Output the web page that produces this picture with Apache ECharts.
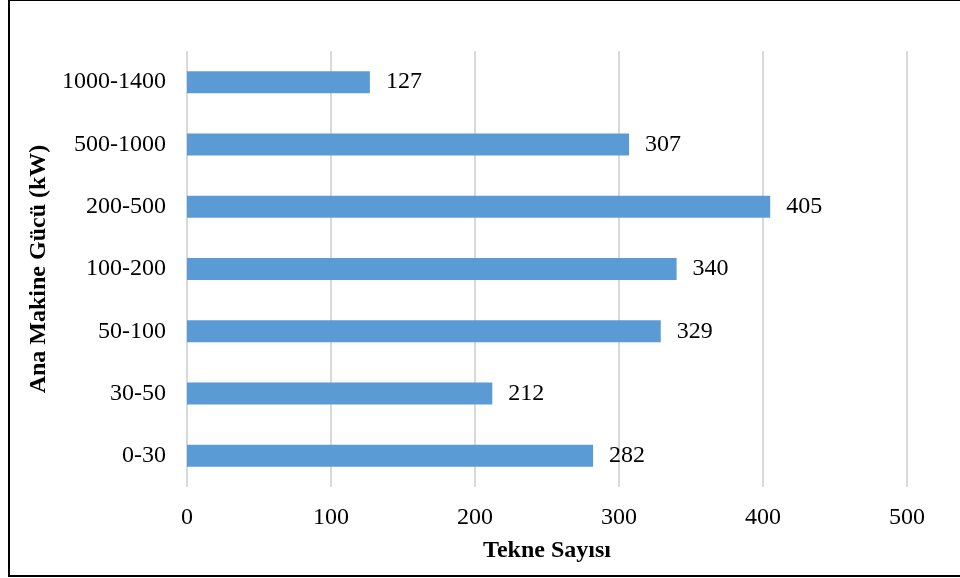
<!DOCTYPE html>
<html><head><meta charset="utf-8">
<script src="https://cdn.jsdelivr.net/npm/echarts@6/dist/echarts.min.js"></script>
<style>html,body{margin:0;padding:0;background:#fff}#c{width:960px;height:578px}</style>
</head><body><div id="c"></div>
<script>
const categories = ['0-30','30-50','50-100','100-200','200-500','500-1000','1000-1400'];
const values = [282, 212, 329, 340, 405, 307, 127];
const xTicks = [0, 100, 200, 300, 400, 500];
const xTitle = 'Tekne Sayısı';
const yTitle = 'Ana Makine Gücü (kW)';

const FONT = '"Liberation Serif", "Times New Roman", serif';
const chart = echarts.init(document.getElementById('c'));
chart.setOption({
  animation: false,
  textStyle: {fontFamily: FONT},
  grid: {left: 187, right: 53, top: 51, bottom: 91, containLabel: false},
  xAxis: {
    type: 'value', min: xTicks[0], max: xTicks[xTicks.length-1], interval: 100,
    axisLine: {show: false}, axisTick: {show: false},
    axisLabel: {fontFamily: FONT, fontSize: 24, color: '#000', margin: 19},
    splitLine: {show: true, lineStyle: {color: '#d9d9d9', width: 2}},
    name: xTitle, nameLocation: 'middle', nameGap: 52,
    nameTextStyle: {fontFamily: FONT, fontSize: 24, fontWeight: 'bold', color: '#000'}
  },
  yAxis: {
    type: 'category', data: categories,
    axisLine: {show: false}, axisTick: {show: false},
    axisLabel: {fontFamily: FONT, fontSize: 24, color: '#000', margin: 21},
    name: yTitle, nameLocation: 'middle', nameGap: 133, nameRotate: 90,
    nameTextStyle: {fontFamily: FONT, fontSize: 24, fontWeight: 'bold', color: '#000'}
  },
  graphic: [{type: 'rect', shape: {x: 9, y: 0, width: 960, height: 576}, style: {fill: 'none', stroke: '#000', lineWidth: 2}, z: 100}],
  series: [{
    type: 'bar', data: values, barWidth: 22,
    itemStyle: {color: '#5b9bd5'},
    label: {show: true, position: 'right', distance: 16, fontFamily: FONT, fontSize: 24, color: '#000'}
  }]
});
</script></body></html>
